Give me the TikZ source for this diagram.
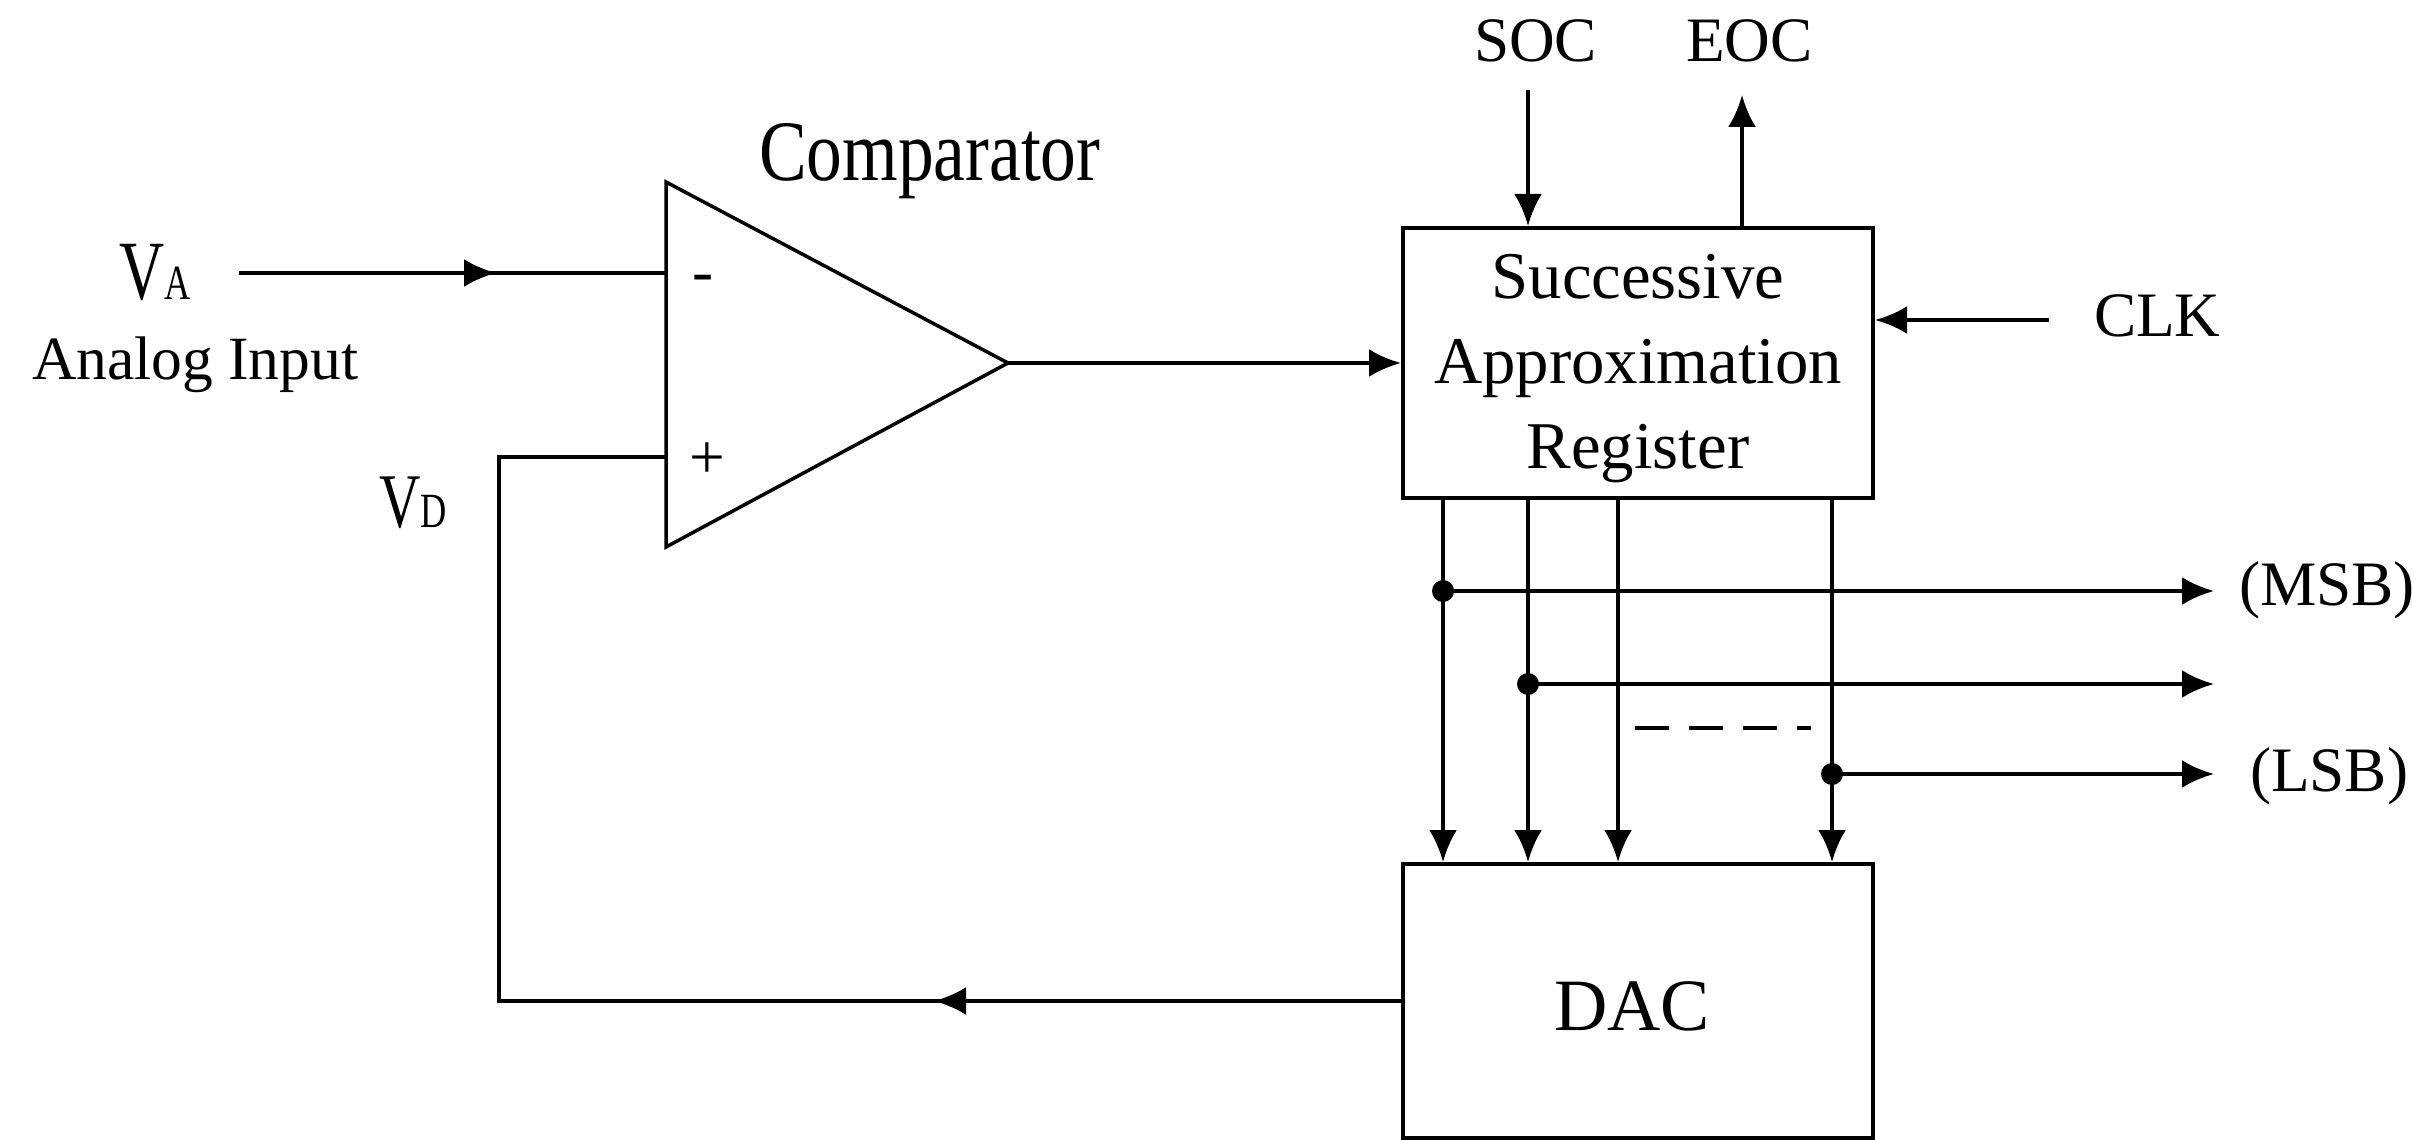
\documentclass[tikz,border=0pt]{standalone}
\usepackage{fontspec}
\setmainfont{Liberation Serif}
\newfontfamily\narrowfont[FakeStretch=0.74]{Liberation Serif}
\newfontfamily\cmpfont[FakeStretch=0.83]{Liberation Serif}
\usetikzlibrary{arrows.meta,decorations.markings}
\begin{document}
\begin{tikzpicture}[x=0.1mm,y=-0.1mm, line width=0.4mm,
  >={Latex[length=3.2mm,width=2.8mm]},
  box/.style={draw, minimum width=47mm, inner sep=0pt, align=center},
  lbl/.style={inner sep=0pt, anchor=base west, font=\fontsize{18}{22}\selectfont},
  dotnode/.style={circle, fill, inner sep=0pt, minimum size=2.2mm},
  midarrow/.style={postaction={decorate}, decoration={markings, mark=at position #1 with {\arrow{>}}}},
]
\useasboundingbox (0,0) rectangle (2412,1140);

% comparator
\coordinate (cT) at (666,182);
\coordinate (cB) at (666,547);
\coordinate (cA) at (1008,363);
\coordinate (cMinus) at (666,273);
\coordinate (cPlus) at (666,457);
\draw[line width=0.35mm] (cT) -- (cA) -- (cB) -- cycle;
\node[inner sep=0pt, font=\fontsize{18}{22}\selectfont] (minus) at (703,284) {-};
\node[inner sep=0pt, font=\fontsize{18}{22}\selectfont] (plus) at (707,461) {+};
\node[inner sep=0pt, anchor=base west] (cmp) at (757,181) {\cmpfont\fontsize{24.5}{28}\selectfont Comparator};

% labels left
\node[inner sep=0pt, anchor=base west] (va) at (117,300) {\narrowfont\fontsize{24}{28}\selectfont V\fontsize{14}{16}\selectfont A};
\node[lbl, font=\fontsize{17.5}{21}\selectfont] (ain) at (30,380) {Analog Input};
\node[inner sep=0pt, anchor=base west] (vd) at (377,528) {\narrowfont\fontsize{22}{26}\selectfont V\fontsize{14}{16}\selectfont D};

% blocks
\node[box, minimum height=27mm, font=\fontsize{19}{24.2}\selectfont] (sar) at (1638,363) {};
\node[inner sep=0pt, align=center, font=\fontsize{19}{24.2}\selectfont] (sartext) at (1638,369) {Successive\\Approximation\\Register};
\node[box, minimum height=27.4mm] (dac) at (1638,1001) {};
\node[inner sep=0pt, anchor=base, font=\fontsize{21}{25}\selectfont] (dactext) at (1632,1030) {DAC};

% input
\coordinate (vaStart) at (239,273);
\draw[midarrow=0.602] (vaStart) -- (cMinus);
% comparator output
\draw[->] (cA) -- (sar.west);
% feedback
\coordinate (fb1) at (499,1001);
\coordinate (fb2) at (499,457);
\draw[midarrow=46.7mm] (dac.west) -- (fb1) -- (fb2) -- (cPlus);

% control signals
\node[lbl] (soc) at (1472,62) {SOC};
\node[lbl] (eoc) at (1684,62) {EOC};
\node[lbl] (clk) at (2092,337) {CLK};
\coordinate (socStart) at (1528,90);
\coordinate (eocEnd) at (1742,95);
\coordinate (clkStart) at (2049,320);
\draw[->] (socStart) -- (socStart |- sar.north);
\draw[->] (eocEnd |- sar.north) -- (eocEnd);
\draw[->] (clkStart) -- (clkStart -| sar.east);

% bit lines
\foreach \x/\n in {1443/b1,1528/b2,1618/b3,1832/b4}{
  \coordinate (\n) at (\x,498);
  \draw[->] (\n) -- (\n |- dac.north);
}
\node[dotnode] (d1) at (1443,591) {};
\node[dotnode] (d2) at (1528,684) {};
\node[dotnode] (d3) at (1832,774) {};
\coordinate (e1) at (2214,591);
\coordinate (e2) at (2214,684);
\coordinate (e3) at (2214,774);
\draw[->] (d1.center) -- (e1);
\draw[->] (d2.center) -- (e2);
\draw[->] (d3.center) -- (e3);
\coordinate (dsA) at (1635,728);
\coordinate (dsB) at (1811,728);
\draw[line width=0.35mm, dash pattern=on 3.4mm off 2mm] (dsA) -- (dsB);
\node[lbl] (msb) at (2237,605) {(MSB)};
\node[lbl] (lsb) at (2248,791) {(LSB)};
\end{tikzpicture}
\end{document}
